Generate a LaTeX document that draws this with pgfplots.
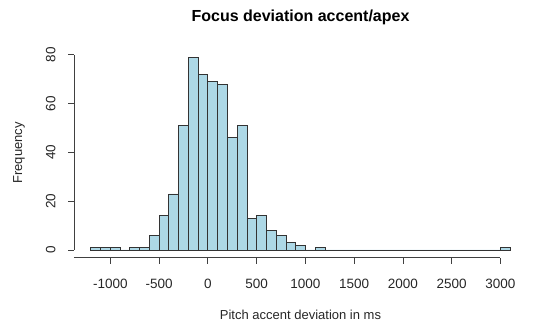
\documentclass[border=0pt]{standalone}
\usepackage{pgfplots}
\pgfplotsset{compat=1.18}
\usepackage{fontspec}
\setmainfont{Liberation Sans}
\definecolor{lblue}{HTML}{ADD8E6}
\begin{document}
\begin{tikzpicture}[x=1pt,y=1pt]
\useasboundingbox (0,0) rectangle (539,324);
\begin{axis}[
  at={(74pt,66.3pt)}, anchor=south west,
  scale only axis, width=453pt, height=208.2pt,
  xmin=-1372, xmax=3272, ymin=-3.16, ymax=82.16,
  axis line style={draw=none},
  xtick={-1000,-500,0,500,1000,1500,2000,2500,3000},
  ytick={0,20,40,60,80},
  xtick pos=bottom, ytick pos=left,
  tick align=outside, major tick length=6pt,
  tick style={black!75, line width=0.7pt},
  /pgf/number format/assume math mode=true,
  /pgf/number format/1000 sep={},
  ticklabel style={font=\fontsize{13.5}{15}\selectfont, text=black!85},
  xticklabel style={anchor=north, yshift=-12pt},
  yticklabel style={rotate=90, anchor=south, yshift=9pt},
  title={\textbf{Focus deviation accent/apex}},
  title style={font=\fontsize{16}{18}\selectfont, at={(axis description cs:0.5,1.125)}, anchor=center},
  xlabel={Pitch accent deviation in ms},
  xlabel style={font=\fontsize{13}{15}\selectfont, text=black!85, at={(axis description cs:0.5,-0.275)}, anchor=center},
  ylabel={Frequency},
  ylabel style={font=\fontsize{13}{15}\selectfont, text=black!85, at={(axis description cs:-0.1214,0.503)}, anchor=center, rotate=0},
  clip=false,
]
\addplot[ybar interval, fill=lblue, draw=black!80, line width=0.7pt] coordinates {
(-1200,1) (-1100,1) (-1000,1) (-900,0) (-800,1) (-700,1) (-600,6) (-500,14)
(-400,23) (-300,51) (-200,79) (-100,72) (0,69) (100,68) (200,46) (300,51)
(400,13) (500,14) (600,8) (700,6) (800,3) (900,2) (1000,0) (1100,1)
(1200,0) (1300,0) (1400,0) (1500,0) (1600,0) (1700,0) (1800,0) (1900,0)
(2000,0) (2100,0) (2200,0) (2300,0) (2400,0) (2500,0) (2600,0) (2700,0)
(2800,0) (2900,0) (3000,1) (3100,0)
};
\draw[black!75, line width=0.7pt] (axis cs:-1372,-3.16) -- (axis cs:3000,-3.16);
\draw[black!75, line width=0.7pt] (axis cs:-1372,0) -- (axis cs:-1372,80);
\end{axis}
\end{tikzpicture}
\end{document}
